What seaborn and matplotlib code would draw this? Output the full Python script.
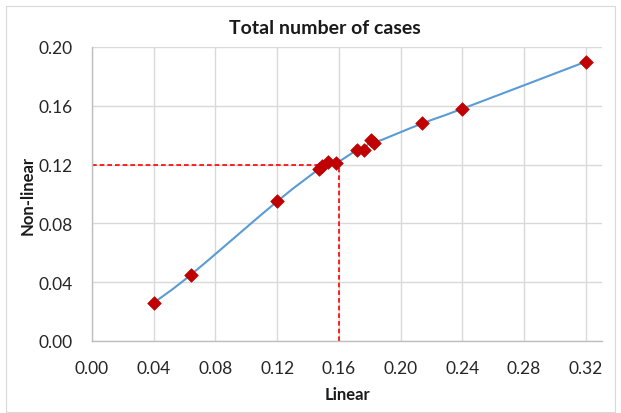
import numpy as np
import pandas as pd
import matplotlib
matplotlib.use('Agg')
import matplotlib.pyplot as plt
from matplotlib.path import Path
from matplotlib.patches import PathPatch, Rectangle
import seaborn as sns

# values
linear = [0.040, 0.064, 0.120, 0.147, 0.149, 0.153, 0.158, 0.172, 0.176, 0.181, 0.183, 0.214, 0.240, 0.320]
non_linear = [0.026, 0.045, 0.095, 0.117, 0.119, 0.122, 0.121, 0.130, 0.130, 0.137, 0.135, 0.148, 0.158, 0.190]
ref_x = 0.16
ref_y = 0.12
x_ticks = [0.00, 0.04, 0.08, 0.12, 0.16, 0.20, 0.24, 0.28, 0.32]
y_ticks = [0.00, 0.04, 0.08, 0.12, 0.16, 0.20]

df = pd.DataFrame({'Linear': linear, 'Non-linear': non_linear})

sns.set_theme(style='whitegrid')
plt.rcParams['font.family'] = ['Lato', 'DejaVu Sans']

W, H = 621, 414
fig = plt.figure(figsize=(W / 100, H / 100), dpi=100)
fig.patch.set_facecolor('white')
# chart area border (Excel style)
fig.patches.append(Rectangle((6 / W, 1 / H), 609 / W, 406 / H, transform=fig.transFigure,
                             fill=False, edgecolor='#D9D9D9', linewidth=0.8))

ax = fig.add_axes([92 / W, (H - 342) / H, (602 - 92) / W, (342 - 48) / H])
ax.set_facecolor('white')


def smooth_path(xs, ys):
    # Excel-like smoothed line: Catmull-Rom turned into cubic Bezier segments
    p = np.column_stack([xs, ys])
    n = len(p)
    verts = [p[0]]
    codes = [Path.MOVETO]
    for i in range(n - 1):
        p0 = p[i - 1] if i > 0 else p[i]
        p3 = p[i + 2] if i + 2 < n else p[i + 1]
        c1 = p[i] + (p[i + 1] - p0) / 6
        c2 = p[i + 1] - (p3 - p[i]) / 6
        verts += [c1, c2, p[i + 1]]
        codes += [Path.CURVE4] * 3
    return Path(verts, codes)


ax.add_patch(PathPatch(smooth_path(df['Linear'], df['Non-linear']), facecolor='none',
                       edgecolor='#5B9BD5', linewidth=1.5, zorder=3))

# reference lines
ax.plot([0, ref_x], [ref_y, ref_y], color='#FF0000', lw=1.2, dashes=(2.8, 1.8), zorder=2)
ax.plot([ref_x, ref_x], [0, ref_y], color='#FF0000', lw=1.2, dashes=(2.8, 1.8), zorder=2)

sns.scatterplot(data=df, x='Linear', y='Non-linear', marker='D', s=48, color='#C00000',
                edgecolor='#C00000', linewidth=0.5, zorder=4, ax=ax)

ax.set_xlim(0, 0.3305)
ax.set_ylim(0, 0.2)
ax.set_xticks(x_ticks)
ax.set_yticks(y_ticks)
ax.set_xticklabels([f'{v:.2f}' for v in x_ticks])
ax.set_yticklabels([f'{v:.2f}' for v in y_ticks])
ax.tick_params(axis='both', labelsize=12.5, colors='#262626', length=0)
ax.tick_params(axis='x', pad=14)
ax.tick_params(axis='y', pad=14)
ax.grid(True, color='#D9D9D9', linewidth=1.0)

for side in ['top', 'right']:
    ax.spines[side].set_visible(False)
for side in ['left', 'bottom']:
    ax.spines[side].set_color('#BFBFBF')
    ax.spines[side].set_linewidth(1.0)

ax.set_xlabel('Linear', fontsize=12, fontweight='bold', color='#1A1A1A', labelpad=7)
ax.set_ylabel('Non-linear', fontsize=12, fontweight='bold', color='#1A1A1A', labelpad=2)
fig.text(325 / W, 1 - 28 / H, 'Total number of cases', ha='center', va='center',
         fontsize=14, fontweight='bold', color='#1A1A1A')

fig.savefig('out.png', dpi=100)
